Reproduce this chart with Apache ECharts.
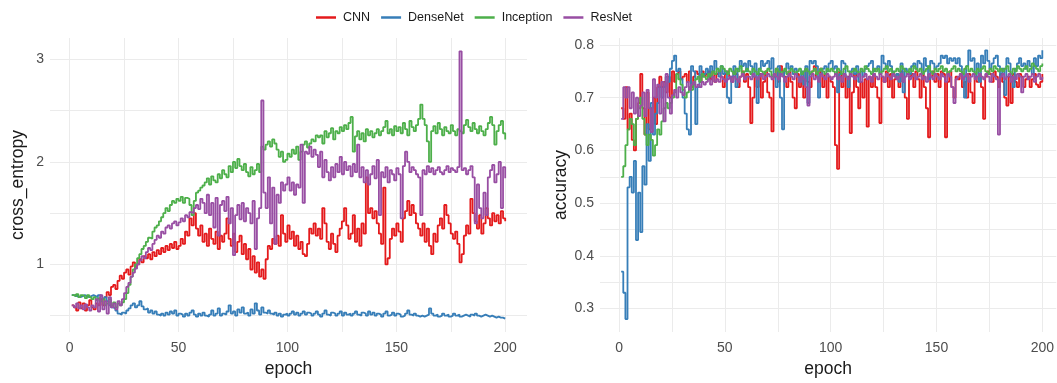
<!DOCTYPE html>
<html>
<head>
<meta charset="utf-8">
<script src="https://cdn.jsdelivr.net/npm/echarts@6/dist/echarts.min.js"></script>
<style>
  html, body { margin: 0; padding: 0; background: #fff; }
  #chart { width: 1057px; height: 383px; }
</style>
</head>
<body>
<div id="chart"></div>
<script>
// models shown in the legend
const models = ['CNN', 'DenseNet', 'Inception', 'ResNet'];
const colors = ['#E41A1C', '#377EB8', '#4DAF4A', '#984EA3'];

// tick labels
const epochTicks = [0, 50, 100, 150, 200];
const ceTicks = [1, 2, 3];
const accTicks = [0.3, 0.4, 0.5, 0.6, 0.7, 0.8];

// cross_entropy per epoch (1..200)
const ceCNN = [
  0.60,0.58,0.55,0.63,0.57,0.62,0.55,0.60,0.65,0.58,
  0.56,0.62,0.60,0.66,0.60,0.68,0.73,0.70,0.78,0.80,
  0.76,0.84,0.89,0.86,0.92,0.95,0.90,0.98,1.02,0.97,
  1.00,1.05,1.02,1.08,1.06,1.10,1.05,1.12,1.08,1.14,
  1.10,1.16,1.12,1.18,1.14,1.20,1.16,1.22,1.15,1.18,
  1.25,1.20,1.32,1.28,1.45,1.38,1.50,1.35,1.28,1.38,
  1.22,1.30,1.18,1.35,1.25,1.20,1.32,1.15,1.28,1.22,
  1.30,1.45,1.25,1.18,1.30,1.12,1.22,1.28,1.10,1.20,
  1.05,1.15,0.95,1.08,0.92,1.02,0.88,0.95,0.86,1.05,
  1.18,1.15,1.25,1.20,1.28,1.18,1.48,1.30,1.22,1.38,
  1.25,1.32,1.18,1.28,1.15,1.22,1.10,1.08,1.20,1.35,
  1.30,1.40,1.28,1.35,1.25,1.55,1.40,1.22,1.15,1.30,
  1.20,1.12,1.28,1.35,1.42,1.55,1.38,1.25,1.30,1.48,
  1.22,1.35,1.18,1.40,1.30,1.85,1.50,1.55,1.45,1.52,
  1.40,1.30,1.20,1.75,1.00,1.06,1.25,1.35,1.28,1.40,
  1.32,1.22,1.45,1.52,1.62,1.48,1.58,1.50,1.40,1.35,
  1.28,1.40,1.22,1.35,1.18,1.10,1.30,1.22,1.38,1.45,
  1.35,1.58,1.48,1.40,1.30,1.25,1.32,1.20,1.02,1.10,
  1.28,1.38,1.30,1.64,1.50,1.42,1.35,1.48,1.30,1.40,
  1.55,1.45,1.38,1.50,1.42,1.48,1.40,1.52,1.45,1.42
];
const ceDense = [
  0.70,0.69,0.70,0.68,0.69,0.70,0.69,0.68,0.69,0.70,
  0.69,0.68,0.70,0.69,0.66,0.68,0.64,0.60,0.58,0.57,
  0.55,0.52,0.51,0.53,0.52,0.55,0.57,0.60,0.62,0.58,
  0.60,0.64,0.59,0.56,0.57,0.53,0.55,0.52,0.54,0.51,
  0.50,0.52,0.50,0.53,0.51,0.54,0.52,0.55,0.50,0.52,
  0.51,0.49,0.52,0.50,0.53,0.55,0.51,0.49,0.52,0.50,
  0.53,0.50,0.49,0.51,0.55,0.50,0.52,0.57,0.50,0.52,
  0.51,0.54,0.60,0.52,0.54,0.50,0.56,0.53,0.58,0.52,
  0.53,0.50,0.56,0.52,0.62,0.55,0.51,0.58,0.53,0.52,
  0.55,0.52,0.51,0.53,0.50,0.52,0.49,0.51,0.52,0.50,
  0.52,0.54,0.51,0.53,0.50,0.52,0.54,0.51,0.53,0.52,
  0.50,0.52,0.54,0.51,0.49,0.52,0.55,0.51,0.50,0.53,
  0.52,0.50,0.52,0.54,0.50,0.53,0.51,0.52,0.50,0.52,
  0.54,0.51,0.50,0.53,0.52,0.50,0.54,0.51,0.53,0.50,
  0.52,0.51,0.49,0.52,0.54,0.50,0.51,0.53,0.50,0.52,
  0.51,0.49,0.50,0.52,0.55,0.51,0.50,0.52,0.50,0.49,
  0.50,0.49,0.50,0.51,0.57,0.52,0.50,0.51,0.49,0.50,
  0.52,0.50,0.51,0.49,0.50,0.52,0.50,0.51,0.49,0.50,
  0.51,0.50,0.49,0.51,0.50,0.52,0.50,0.49,0.50,0.51,
  0.50,0.49,0.50,0.49,0.48,0.49,0.48,0.48,0.47,0.47
];
const ceIncep = [
  0.70,0.69,0.71,0.68,0.70,0.69,0.67,0.70,0.68,0.66,
  0.68,0.65,0.67,0.64,0.66,0.60,0.62,0.66,0.60,0.63,
  0.58,0.62,0.60,0.63,0.66,0.72,0.80,0.88,0.95,1.00,
  1.06,1.10,1.15,1.18,1.22,1.26,1.25,1.32,1.36,1.38,
  1.42,1.46,1.50,1.55,1.52,1.58,1.62,1.60,1.64,1.62,
  1.66,1.60,1.65,1.64,1.58,1.48,1.62,1.70,1.72,1.75,
  1.77,1.80,1.84,1.78,1.86,1.82,1.80,1.88,1.84,1.92,
  1.88,1.85,1.96,1.90,2.00,1.94,2.03,1.96,1.92,1.98,
  1.90,1.86,1.95,1.88,1.92,1.98,1.90,2.15,2.12,2.17,
  2.20,2.15,2.22,2.18,2.12,2.05,2.10,2.00,2.02,2.08,
  2.05,2.12,2.08,2.15,2.02,2.10,2.17,2.20,2.14,2.18,
  2.22,2.20,2.26,2.24,2.26,2.18,2.30,2.24,2.28,2.33,
  2.22,2.30,2.28,2.34,2.30,2.36,2.32,2.38,2.44,2.10,
  2.25,2.30,2.22,2.28,2.20,2.32,2.26,2.30,2.24,2.28,
  2.32,2.26,2.30,2.34,2.40,2.28,2.32,2.26,2.35,2.30,
  2.34,2.28,2.38,2.32,2.26,2.40,2.34,2.30,2.36,2.42,
  2.56,2.42,2.36,2.20,2.00,2.30,2.35,2.28,2.38,2.32,
  2.26,2.34,2.30,2.28,2.36,2.30,2.26,2.32,2.30,2.28,
  2.36,2.41,2.34,2.30,2.38,2.32,2.28,2.35,2.30,2.26,
  2.32,2.38,2.44,2.36,2.17,2.30,2.36,2.40,2.28,2.22
];
const ceRes = [
  0.60,0.58,0.62,0.57,0.60,0.56,0.61,0.58,0.55,0.60,
  0.58,0.66,0.54,0.70,0.56,0.64,0.52,0.68,0.58,0.62,
  0.56,0.64,0.60,0.66,0.72,0.78,0.82,0.88,0.92,0.96,
  1.00,1.04,1.08,1.06,1.12,1.16,1.14,1.20,1.24,1.28,
  1.26,1.32,1.30,1.36,1.38,1.35,1.40,1.42,1.38,1.41,
  1.45,1.42,1.48,1.46,1.51,1.50,1.55,1.58,1.54,1.64,
  1.60,1.50,1.68,1.48,1.60,1.36,1.65,1.28,1.58,1.62,
  1.52,1.66,1.40,1.55,1.09,1.48,1.58,1.44,1.60,1.42,
  1.55,1.50,1.40,1.62,1.15,1.45,1.55,2.60,1.70,1.55,
  1.85,1.40,1.75,1.20,1.68,1.60,1.80,1.72,1.78,1.85,
  1.72,1.80,1.68,1.78,1.75,2.17,1.60,2.10,2.08,2.15,
  2.05,2.12,2.07,1.95,2.10,1.85,2.02,1.90,1.82,1.95,
  1.85,1.98,1.90,2.05,1.88,2.00,1.92,1.96,1.86,1.98,
  1.90,2.17,1.85,1.95,1.80,1.92,1.78,1.88,1.96,1.84,
  2.02,1.48,1.90,1.85,1.95,1.80,1.92,1.88,1.82,1.94,
  1.88,1.45,1.96,2.10,2.00,1.90,1.95,1.92,1.88,1.85,
  1.48,1.92,1.88,1.96,1.90,1.94,1.88,1.92,1.95,1.90,
  1.88,1.92,1.96,1.90,1.94,1.92,1.90,1.95,3.08,1.92,
  1.94,1.88,1.92,1.96,1.85,1.40,1.78,1.55,1.45,1.70,
  1.48,1.85,1.92,1.97,1.80,1.88,2.00,1.55,1.95,1.84
];

// accuracy per epoch (1..200)
const accCNN = [
  0.68,0.66,0.72,0.64,0.67,0.62,0.60,0.66,0.69,0.745,
  0.68,0.63,0.71,0.64,0.68,0.70,0.65,0.72,0.74,0.72,
  0.73,0.71,0.74,0.70,0.75,0.73,0.745,0.75,0.735,0.74,
  0.745,0.73,0.75,0.72,0.74,0.75,0.745,0.73,0.75,0.74,
  0.745,0.75,0.735,0.75,0.73,0.745,0.75,0.74,0.72,0.745,
  0.75,0.74,0.73,0.75,0.745,0.72,0.74,0.75,0.73,0.745,
  0.72,0.652,0.70,0.74,0.72,0.745,0.70,0.73,0.75,0.71,
  0.70,0.636,0.74,0.755,0.73,0.76,0.75,0.74,0.72,0.75,
  0.73,0.70,0.68,0.745,0.72,0.74,0.70,0.755,0.73,0.72,
  0.75,0.76,0.74,0.735,0.755,0.72,0.745,0.70,0.74,0.73,
  0.72,0.61,0.565,0.75,0.72,0.745,0.70,0.74,0.633,0.71,
  0.745,0.72,0.68,0.73,0.70,0.735,0.645,0.74,0.72,0.745,
  0.72,0.70,0.652,0.74,0.73,0.75,0.72,0.745,0.70,0.735,
  0.745,0.72,0.75,0.73,0.70,0.66,0.74,0.745,0.72,0.75,
  0.735,0.70,0.745,0.72,0.68,0.625,0.74,0.75,0.73,0.745,
  0.72,0.75,0.745,0.625,0.73,0.75,0.72,0.70,0.74,0.735,
  0.745,0.72,0.73,0.70,0.745,0.71,0.69,0.74,0.73,0.745,
  0.72,0.66,0.74,0.75,0.745,0.73,0.75,0.74,0.72,0.745,
  0.73,0.70,0.685,0.74,0.69,0.745,0.73,0.72,0.745,0.74,
  0.72,0.735,0.74,0.72,0.735,0.745,0.725,0.72,0.73,0.745
];
const accDense = [
  0.37,0.33,0.28,0.53,0.55,0.52,0.58,0.43,0.52,0.445,
  0.57,0.535,0.65,0.58,0.69,0.63,0.67,0.69,0.72,0.70,
  0.72,0.74,0.73,0.755,0.77,0.78,0.75,0.755,0.735,0.70,
  0.67,0.64,0.63,0.76,0.75,0.65,0.72,0.76,0.74,0.745,
  0.755,0.74,0.76,0.75,0.77,0.755,0.74,0.76,0.745,0.75,
  0.70,0.69,0.74,0.76,0.72,0.755,0.77,0.76,0.765,0.75,
  0.77,0.76,0.74,0.765,0.69,0.755,0.77,0.76,0.765,0.77,
  0.755,0.775,0.74,0.72,0.76,0.70,0.64,0.75,0.765,0.755,
  0.76,0.745,0.755,0.74,0.73,0.75,0.725,0.76,0.69,0.77,
  0.765,0.77,0.76,0.70,0.745,0.755,0.76,0.75,0.765,0.77,
  0.755,0.76,0.71,0.745,0.77,0.765,0.74,0.72,0.75,0.755,
  0.745,0.76,0.73,0.75,0.74,0.755,0.76,0.765,0.77,0.75,
  0.755,0.76,0.745,0.78,0.765,0.755,0.77,0.76,0.75,0.74,
  0.745,0.73,0.765,0.71,0.755,0.75,0.745,0.76,0.765,0.755,
  0.77,0.765,0.745,0.775,0.76,0.735,0.77,0.765,0.755,0.76,
  0.765,0.78,0.775,0.78,0.765,0.775,0.77,0.775,0.765,0.775,
  0.76,0.745,0.70,0.76,0.79,0.77,0.775,0.74,0.765,0.73,
  0.78,0.765,0.79,0.77,0.755,0.765,0.775,0.78,0.76,0.74,
  0.755,0.705,0.775,0.765,0.74,0.72,0.755,0.765,0.775,0.76,
  0.765,0.755,0.77,0.76,0.745,0.775,0.76,0.78,0.775,0.79
];
const accIncep = [
  0.55,0.57,0.61,0.64,0.66,0.65,0.61,0.66,0.68,0.70,
  0.66,0.63,0.61,0.63,0.62,0.59,0.61,0.64,0.63,0.655,
  0.68,0.69,0.68,0.69,0.70,0.71,0.745,0.735,0.725,0.715,
  0.70,0.71,0.72,0.715,0.725,0.735,0.74,0.73,0.745,0.74,
  0.735,0.745,0.74,0.75,0.745,0.755,0.75,0.76,0.755,0.75,
  0.745,0.755,0.75,0.745,0.755,0.75,0.76,0.745,0.75,0.755,
  0.75,0.745,0.755,0.75,0.745,0.755,0.75,0.745,0.75,0.755,
  0.75,0.74,0.745,0.755,0.75,0.745,0.75,0.755,0.745,0.75,
  0.755,0.75,0.745,0.75,0.755,0.745,0.75,0.755,0.75,0.745,
  0.75,0.755,0.745,0.75,0.755,0.75,0.745,0.755,0.75,0.755,
  0.75,0.745,0.755,0.75,0.745,0.755,0.76,0.75,0.745,0.75,
  0.755,0.75,0.745,0.755,0.75,0.76,0.755,0.75,0.745,0.755,
  0.75,0.755,0.745,0.75,0.755,0.76,0.75,0.755,0.745,0.75,
  0.755,0.75,0.76,0.755,0.75,0.745,0.755,0.75,0.76,0.755,
  0.75,0.755,0.745,0.75,0.755,0.76,0.75,0.745,0.755,0.75,
  0.755,0.76,0.75,0.755,0.745,0.75,0.755,0.76,0.75,0.755,
  0.75,0.745,0.755,0.76,0.75,0.755,0.75,0.745,0.755,0.75,
  0.755,0.76,0.75,0.745,0.755,0.75,0.76,0.755,0.75,0.755,
  0.75,0.755,0.76,0.75,0.745,0.755,0.75,0.76,0.755,0.75,
  0.755,0.76,0.75,0.755,0.765,0.76,0.755,0.75,0.76,0.765
];
const accRes = [
  0.66,0.72,0.70,0.72,0.68,0.71,0.67,0.70,0.665,0.685,
  0.71,0.665,0.715,0.68,0.635,0.735,0.70,0.725,0.67,0.73,
  0.655,0.745,0.70,0.67,0.705,0.715,0.70,0.72,0.71,0.705,
  0.72,0.73,0.715,0.725,0.73,0.72,0.725,0.72,0.73,0.725,
  0.73,0.735,0.725,0.74,0.73,0.735,0.73,0.74,0.735,0.73,
  0.735,0.74,0.73,0.74,0.735,0.73,0.74,0.745,0.735,0.74,
  0.74,0.735,0.745,0.74,0.735,0.74,0.745,0.735,0.74,0.745,
  0.74,0.735,0.745,0.74,0.735,0.745,0.74,0.73,0.74,0.745,
  0.74,0.735,0.745,0.74,0.73,0.74,0.735,0.72,0.685,0.74,
  0.745,0.735,0.74,0.73,0.745,0.74,0.735,0.745,0.74,0.735,
  0.74,0.745,0.735,0.74,0.73,0.745,0.74,0.735,0.745,0.74,
  0.735,0.74,0.745,0.73,0.74,0.745,0.735,0.74,0.73,0.745,
  0.74,0.735,0.745,0.74,0.73,0.745,0.74,0.735,0.745,0.74,
  0.735,0.74,0.745,0.73,0.74,0.745,0.735,0.74,0.745,0.735,
  0.74,0.745,0.735,0.74,0.73,0.745,0.74,0.735,0.745,0.74,
  0.735,0.745,0.74,0.73,0.745,0.74,0.72,0.69,0.735,0.74,
  0.745,0.735,0.74,0.745,0.73,0.74,0.745,0.735,0.74,0.745,
  0.74,0.735,0.745,0.74,0.73,0.745,0.74,0.735,0.63,0.74,
  0.745,0.735,0.74,0.745,0.73,0.74,0.735,0.745,0.74,0.71,
  0.74,0.745,0.735,0.74,0.745,0.73,0.74,0.745,0.735,0.74
];

const ceData = [ceCNN, ceDense, ceIncep, ceRes];
const accData = [accCNN, accDense, accIncep, accRes];

// pair each value with its epoch number
function withEpoch(arr) {
  return arr.map((v, i) => [i + 1, v]);
}

const font = 'Liberation Sans, Arial, sans-serif';
const gridColor = '#EBEBEB';
const titleStyle = { color: '#1a1a1a', fontSize: 17.5, fontFamily: font };

function xAxisFor(gridIndex, maxX) {
  return {
    type: 'value',
    gridIndex: gridIndex,
    min: -9,
    max: maxX,
    name: 'epoch',
    nameLocation: 'middle',
    nameGap: 28,
    nameTextStyle: titleStyle,
    axisLine: { show: false },
    axisTick: { show: false, customValues: [0, 25, 50, 75, 100, 125, 150, 175, 200] },
    axisLabel: { customValues: epochTicks, color: '#4D4D4D', fontSize: 14, fontFamily: font, margin: 9 },
    splitLine: { show: true, lineStyle: { color: gridColor, width: 1 } }
  };
}

let option = {
  animation: false,
  color: colors,
  legend: {
    data: models,
    top: 6,
    left: 311,
    icon: 'rect',
    itemWidth: 20,
    itemHeight: 2.5,
    itemGap: 11,
    textStyle: { color: '#1a1a1a', fontSize: 12.5, fontFamily: font, padding: [0, 0, 0, 2] }
  },
  grid: [
    { left: 50, right: 530, top: 38, bottom: 51 },
    { left: 600, right: 0, top: 38, bottom: 51 }
  ],
  xAxis: [xAxisFor(0, 210), xAxisFor(1, 206.6)],
  yAxis: [
    {
      type: 'value',
      gridIndex: 0,
      min: 0.34,
      max: 3.21,
      name: 'cross_entropy',
      nameLocation: 'middle',
      nameGap: 23,
      nameTextStyle: titleStyle,
      axisLine: { show: false },
      axisTick: { show: false, customValues: [0.5, 1, 1.5, 2, 2.5, 3] },
      axisLabel: { customValues: ceTicks, color: '#4D4D4D', fontSize: 14, fontFamily: font, margin: 6 },
      splitLine: { show: true, lineStyle: { color: gridColor, width: 1 } }
    },
    {
      type: 'value',
      gridIndex: 1,
      min: 0.2555,
      max: 0.8133,
      name: 'accuracy',
      nameLocation: 'middle',
      nameGap: 28,
      nameTextStyle: titleStyle,
      axisLine: { show: false },
      axisTick: { show: false, customValues: [0.3, 0.35, 0.4, 0.45, 0.5, 0.55, 0.6, 0.65, 0.7, 0.75, 0.8] },
      axisLabel: { customValues: accTicks, color: '#4D4D4D', fontSize: 14, fontFamily: font, margin: 6,
        formatter: v => v.toFixed(1) },
      splitLine: { show: true, lineStyle: { color: gridColor, width: 1 } }
    }
  ],
  series: []
};

// left panel: cross_entropy, right panel: accuracy
models.forEach((m, k) => {
  option.series.push({
    name: m, type: 'line', step: 'end', xAxisIndex: 0, yAxisIndex: 0,
    showSymbol: false, lineStyle: { width: 1.8, color: colors[k] },
    data: withEpoch(ceData[k])
  });
  option.series.push({
    name: m, type: 'line', step: 'end', xAxisIndex: 1, yAxisIndex: 1,
    showSymbol: false, lineStyle: { width: 1.8, color: colors[k] },
    data: withEpoch(accData[k])
  });
});

let myChart = echarts.init(document.getElementById('chart'));
myChart.setOption(option);
</script>
</body>
</html>
